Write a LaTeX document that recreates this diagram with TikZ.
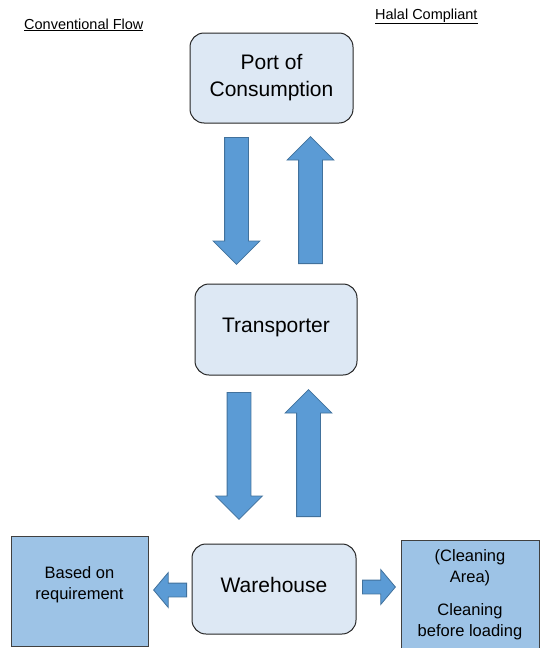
\documentclass[tikz,border=0pt]{standalone}
\usepackage{fontspec}
\setmainfont{Liberation Sans}
\usepackage{xcolor}
\usetikzlibrary{shapes.arrows}
\definecolor{boxfill}{HTML}{DDE8F4}
\definecolor{sidefill}{HTML}{9DC3E6}
\definecolor{arrowfill}{HTML}{5B9BD5}
\definecolor{arrowline}{HTML}{41719C}

\begin{document}
\begin{tikzpicture}[x=1pt,y=-1pt,
    stepbox/.style={draw=black!85, line width=1pt, fill=boxfill,
        rounded corners=14pt, minimum width=163pt, minimum height=90pt,
        align=center, font=\fontsize{21}{27}\selectfont, inner sep=0pt},
    sidebox/.style={draw=black!75, line width=0.8pt, fill=sidefill,
        align=center, font=\fontsize{16.5}{21.5}\selectfont, inner sep=0pt},
    bigarrow/.style={single arrow, draw=arrowline, fill=arrowfill,
        line width=0.8pt, inner xsep=0pt, inner ysep=11.5pt,
        single arrow head extend=11.5pt, single arrow tip angle=90,
        minimum height=127pt, anchor=tail},
    smallarrow/.style={single arrow, draw=arrowline, fill=arrowfill,
        line width=0.8pt, inner xsep=0pt, inner ysep=6.5pt,
        single arrow head extend=10.5pt, single arrow tip angle=100,
        minimum height=33pt, anchor=tail},
    title/.style={font=\fontsize{14.5}{17}\selectfont, inner sep=0pt}]

    \useasboundingbox (0,0) rectangle (541,648);

    \node[title, anchor=base west] (conv) at (24,29) {\underline{Conventional Flow}};
    \node[title, anchor=base west] (halal) at (375,19) {\underline{Halal Compliant}};

    \node[stepbox] (port) at (271.5,78) {Port of\\Consumption};
    \node[stepbox, minimum width=162pt, minimum height=91pt, text depth=8.5pt] (trans) at (276,329.5) {Transporter};
    \node[stepbox, minimum width=164pt, text depth=9pt] (ware) at (274,589) {Warehouse};

    \node[sidebox, minimum width=137pt, minimum height=110pt] (req) at (79.5,591)
        {Based on\\requirement\\[-6pt]};
    \node[sidebox, minimum width=138pt, minimum height=109pt] (clean) at (470,594.5)
        {(Cleaning\\Area)\\[11pt]Cleaning\\before loading};

    % flow between the stages
    \node[bigarrow, rotate=-90] (down1) at (236.5,137) {};
    \node[bigarrow, rotate=90] (up1) at (310.5,264) {};
    \node[bigarrow, rotate=-90] (down2) at (239,392) {};
    \node[bigarrow, rotate=90] (up2) at (308.5,517) {};

    \node[smallarrow, rotate=180] (toreq) at (187,590) {};
    \node[smallarrow] (toclean) at (362,587) {};

\end{tikzpicture}
\end{document}
